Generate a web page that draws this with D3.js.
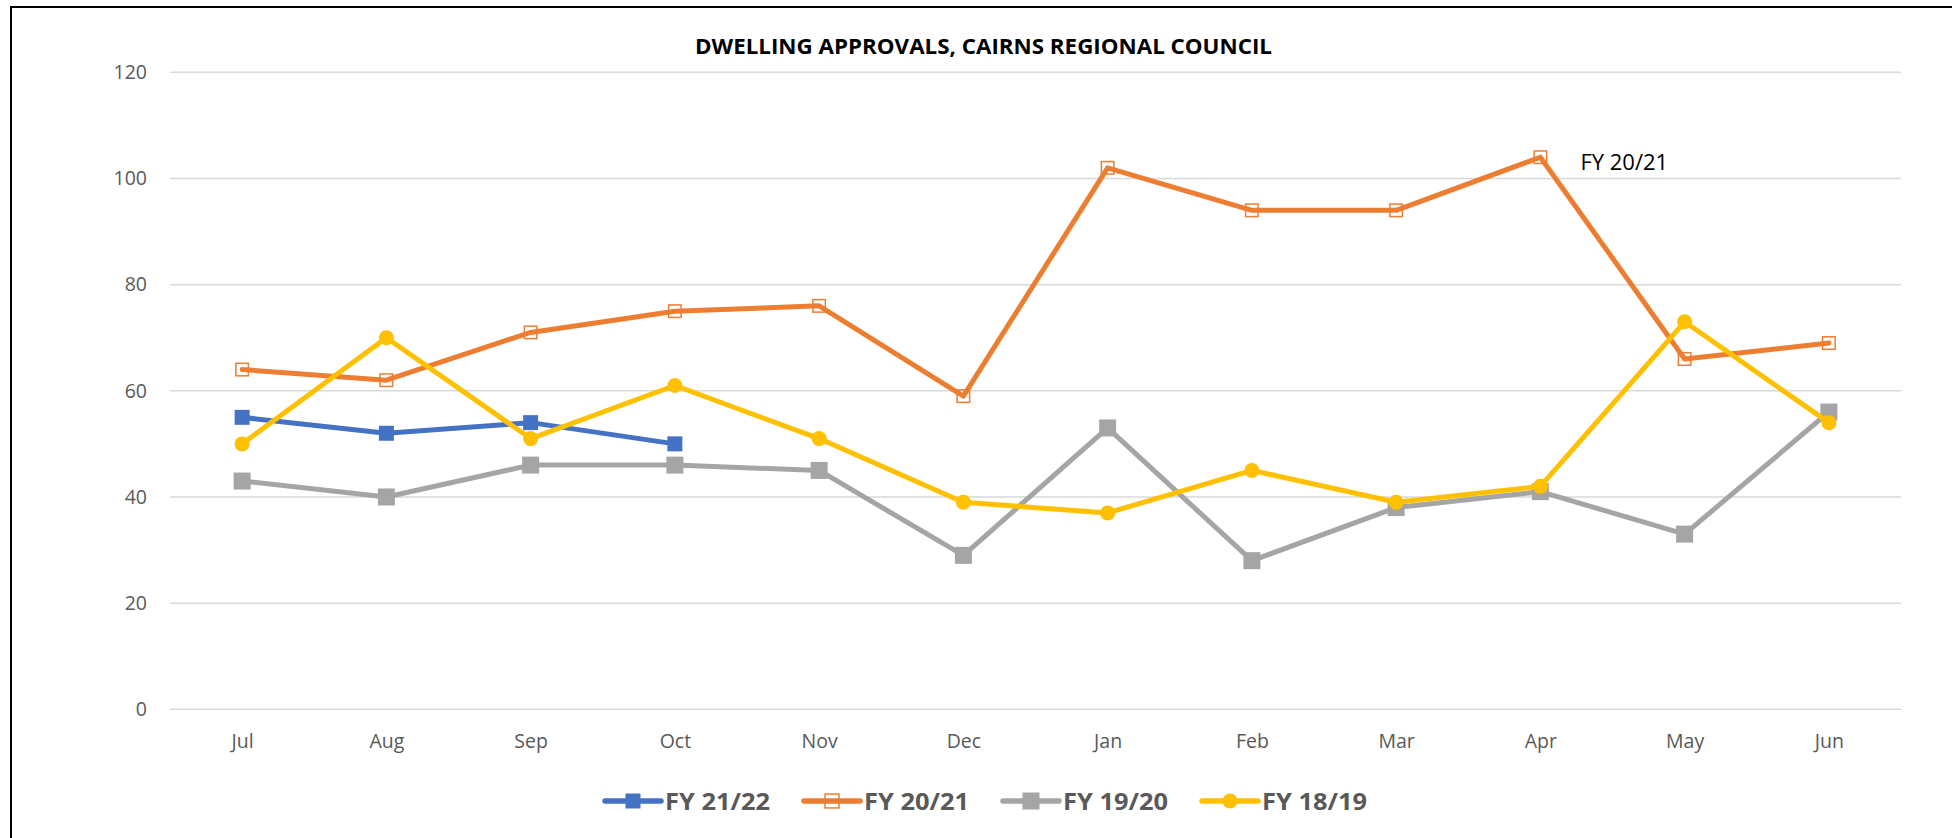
<!DOCTYPE html>
<html>
<head>
<meta charset="utf-8">
<script src="https://cdn.jsdelivr.net/npm/d3@7/dist/d3.min.js"></script>
<style>
  html, body { margin: 0; padding: 0; background: #fff; }
  svg { display: block; }
  text { font-family: "Open Sans", sans-serif; }
</style>
</head>
<body>
<svg id="chart" width="1952" height="838"></svg>
<script>
const months = ["Jul","Aug","Sep","Oct","Nov","Dec","Jan","Feb","Mar","Apr","May","Jun"];
const yTicks = [0, 20, 40, 60, 80, 100, 120];
const fy2122 = [55, 52, 54, 50];
const fy2021 = [64, 62, 71, 75, 76, 59, 102, 94, 94, 104, 66, 69];
const fy1920 = [43, 40, 46, 46, 45, 29, 53, 28, 38, 41, 33, 56];
const fy1819 = [50, 70, 51, 61, 51, 39, 37, 45, 39, 42, 73, 54];
const seriesNames = ["FY 21/22", "FY 20/21", "FY 19/20", "FY 18/19"];
const titleText = "DWELLING APPROVALS, CAIRNS REGIONAL COUNCIL";
const dataLabelText = "FY 20/21";

(function () {
const series = [
  { name: seriesNames[0], values: fy2122, color: "#4472C4", marker: "square", size: 15 },
  { name: seriesNames[1], values: fy2021, color: "#ED7D31", marker: "open", size: 14 },
  { name: seriesNames[2], values: fy1920, color: "#A5A5A5", marker: "square", size: 17 },
  { name: seriesNames[3], values: fy1819, color: "#FFC000", marker: "circle", size: 15 }
];

const svg = d3.select("#chart");
const plotLeft = 170, plotRight = 1901, plotTop = 72.3, plotBottom = 709.3;

// outer frame
svg.append("rect").attr("x", 11).attr("y", 7).attr("width", 2000).attr("height", 900)
  .attr("fill", "#fff").attr("stroke", "#000").attr("stroke-width", 2);

const x = d3.scalePoint().domain(months).range([plotLeft, plotRight]).padding(0.5);
const y = d3.scaleLinear().domain([0, 120]).range([plotBottom, plotTop]);

// gridlines
svg.append("g").selectAll("line").data(yTicks).join("line")
  .attr("x1", plotLeft).attr("x2", plotRight)
  .attr("y1", d => y(d)).attr("y2", d => y(d))
  .attr("stroke", "#D9D9D9").attr("stroke-width", 1.5);

// y axis labels
const yAxis = d3.axisLeft(y).tickValues(yTicks).tickSize(0).tickPadding(23);
const gy = svg.append("g").attr("transform", `translate(${plotLeft},0)`).call(yAxis);
gy.select(".domain").remove();
gy.selectAll("text").attr("fill", "#595959").style("font-size", "19.5px")
  .style("font-family", "'Open Sans', sans-serif");

// x axis labels
const xAxis = d3.axisBottom(x).tickSize(0).tickPadding(25);
const gx = svg.append("g").attr("transform", `translate(0,${plotBottom})`).call(xAxis);
gx.select(".domain").remove();
gx.selectAll("text").attr("fill", "#595959").style("font-size", "19.5px")
  .style("font-family", "'Open Sans', sans-serif");

// title
svg.append("text").attr("x", 983.5).attr("y", 45).attr("text-anchor", "middle")
  .attr("dominant-baseline", "central")
  .attr("textLength", 577).attr("lengthAdjust", "spacingAndGlyphs")
  .style("font-size", "21.5px").style("font-weight", "bold").attr("fill", "#000")
  .text(titleText);

const line = d3.line().x((d, i) => x(months[i])).y(d => y(d));

function drawMarker(g, s, cx, cy, scale) {
  const sz = s.size * (scale || 1);
  if (s.marker === "circle") {
    g.append("circle").attr("cx", cx).attr("cy", cy).attr("r", sz / 2).attr("fill", s.color);
  } else if (s.marker === "square") {
    g.append("rect").attr("x", cx - sz / 2).attr("y", cy - sz / 2)
      .attr("width", sz).attr("height", sz).attr("fill", s.color);
  } else {
    g.append("rect").attr("x", cx - sz / 2 + 0.75).attr("y", cy - sz / 2 + 0.75)
      .attr("width", sz - 1.5).attr("height", sz - 1.5)
      .attr("fill", "none").attr("stroke", s.color).attr("stroke-width", 1.5);
  }
}

series.forEach(s => {
  const g = svg.append("g");
  g.append("path").datum(s.values).attr("d", line)
    .attr("fill", "none").attr("stroke", s.color).attr("stroke-width", 5)
    .attr("stroke-linejoin", "round").attr("stroke-linecap", "round");
  s.values.forEach((v, i) => drawMarker(g, s, x(months[i]), y(v)));
});

// data label at FY 20/21 Apr
const aprIdx = months.indexOf("Apr");
svg.append("text").attr("x", x("Apr") + 40).attr("y", y(fy2021[aprIdx]) + 4)
  .attr("dominant-baseline", "central").style("font-size", "22px").attr("fill", "#000")
  .text(dataLabelText);

// legend
const legendY = 801;
const legendStart = 605, legendStep = 199, sampleLen = 56;
series.forEach((s, i) => {
  const lx = legendStart + i * legendStep;
  const g = svg.append("g");
  g.append("line").attr("x1", lx).attr("x2", lx + sampleLen).attr("y1", legendY).attr("y2", legendY)
    .attr("stroke", s.color).attr("stroke-width", 5.5).attr("stroke-linecap", "round");
  drawMarker(g, s, lx + sampleLen / 2, legendY, s.marker === "open" ? 1.1 : 1);
  g.append("text").attr("x", lx + sampleLen + 4).attr("y", legendY)
    .attr("dominant-baseline", "central")
    .attr("textLength", 105).attr("lengthAdjust", "spacingAndGlyphs")
    .style("font-size", "23px").style("font-weight", "bold").attr("fill", "#595959")
    .text(s.name);
});
})();
</script>
</body>
</html>
